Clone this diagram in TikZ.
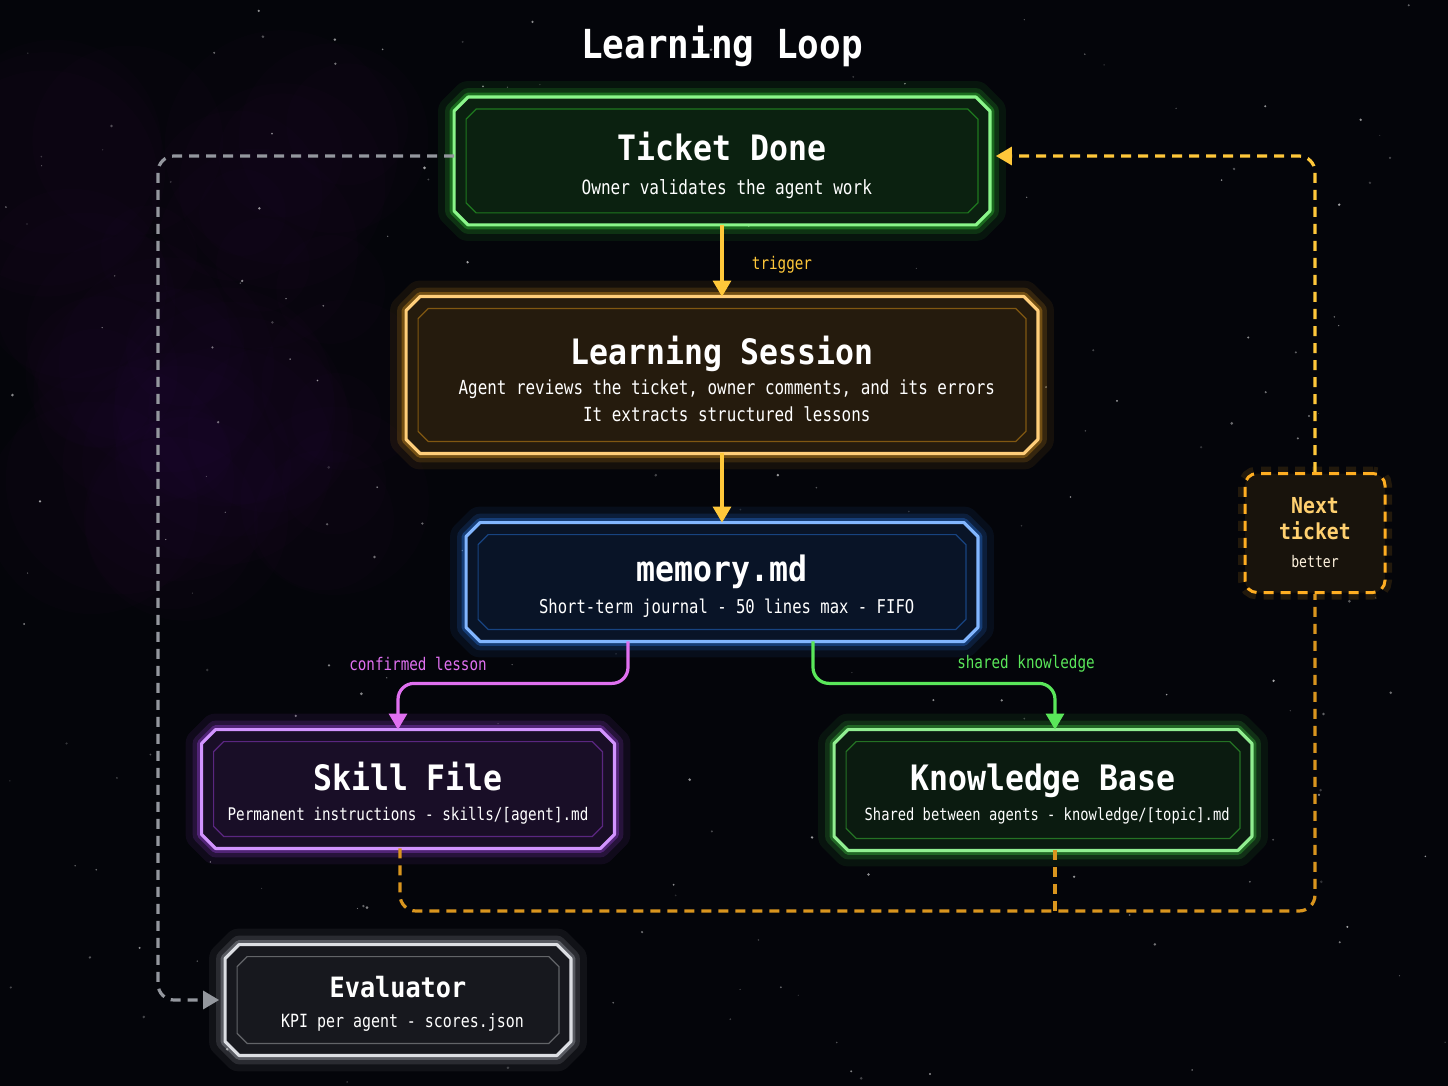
\documentclass[tikz,border=0pt]{standalone}
\usepackage{fontspec}
\setmonofont{DejaVu Sans Mono}
\newfontfamily\subf[FakeStretch=0.82]{DejaVu Sans Mono}
\newfontfamily\titf[FakeStretch=0.9]{DejaVu Sans Mono Bold}
\usetikzlibrary{arrows.meta,calc}
\definecolor{bg}{HTML}{04050A}
\definecolor{lcg}{HTML}{3CF03C}
\definecolor{lco}{HTML}{FFAE22}
\definecolor{lcb}{HTML}{2F86FF}
\definecolor{lcp}{HTML}{B44CFF}
\definecolor{lck}{HTML}{48E448}
\definecolor{lce}{HTML}{C4C8D0}
\definecolor{lcy}{HTML}{FFC83A}
\definecolor{lcm}{HTML}{E070F0}
\definecolor{ntt}{HTML}{FFD070}
\newcommand\tfont{\titf\fontsize{17.5}{20}\selectfont}
\newcommand\sfont[1][8.7]{\subf\fontsize{#1}{14.5}\selectfont}
\newcommand\chp[3]{([xshift=#2+#3,yshift=-#2]#1.north west) -- ([xshift=-#2-#3,yshift=-#2]#1.north east) -- ([xshift=-#2,yshift=-#2-#3]#1.north east) -- ([xshift=-#2,yshift=#2+#3]#1.south east) -- ([xshift=-#2-#3,yshift=#2]#1.south east) -- ([xshift=#2+#3,yshift=#2]#1.south west) -- ([xshift=#2,yshift=#2+#3]#1.south west) -- ([xshift=#2,yshift=-#2-#3]#1.north west) -- cycle}
\newcommand\gbox[7]{%
 \node[rectangle, inner sep=0pt, minimum width=#3, minimum height=#4] (#1) at (#2) {};
 \path[draw=#5,opacity=.07,line width=16pt,line join=round] \chp{#1}{0pt}{7pt};
 \path[draw=#5,opacity=.14,line width=9pt,line join=round] \chp{#1}{0pt}{7pt};
 \path[draw=#5,opacity=.3,line width=4.5pt,line join=round] \chp{#1}{0pt}{7pt};
 \path[fill=#6,draw=#5!60!white,line width=1.6pt,line join=round] \chp{#1}{0pt}{7pt};
 \path[draw=#5!50!black,line width=.6pt] \chp{#1}{6pt}{5pt};
 \node[text=white, align=center, yshift=-2pt] (#1t) at (#1.center) {#7};
}
\begin{document}
\begin{tikzpicture}[x=0.5pt,y=-0.5pt,
  conn/.style={line width=1.6pt,rounded corners=8pt},
  tip/.style={-{Triangle[length=8pt,width=9pt]}},
  dsh/.style={dash pattern=on 5pt off 3.5pt},
  lbl/.style={font=\sfont}]
\fill[bg] (0,0) rectangle (1448,1086);
\useasboundingbox (0,0) rectangle (1448,1086);
% nebula
\pgfmathsetseed{3}
\foreach \i in {1,...,40}
  \fill[lcp,opacity=.01] ({40+rnd*320},{120+rnd*420}) circle ({(20+rnd*40)*1pt});
\pgfmathsetseed{7}
\foreach \i in {1,...,220}
  \fill[white,opacity={0.15+0.5*rnd}] ({rnd*1448},{rnd*1086}) circle ({(0.25+0.5*rnd)*1pt});
% title
\node[text=white,font=\titf\fontsize{20}{22}\selectfont] (title) at (722,46) {Learning Loop};
% boxes
\gbox{td}{722,161}{267.5pt}{63.5pt}{lcg}{lcg!12!bg}{{\tfont Ticket Done}\\[5pt]{\sfont[9.8] Owner validates the agent work}}
\gbox{ls}{722,375}{315.5pt}{78pt}{lco}{lco!13!bg}{{\tfont Learning Session}\\[3pt]{\sfont[9.7] Agent reviews the ticket, owner comments, and its errors}\\[1.5pt]{\sfont[9.7] It extracts structured lessons}}
\gbox{mem}{722,582}{255.5pt}{59pt}{lcb}{lcb!12!bg}{{\tfont memory.md}\\[4pt]{\sfont[9.5] Short-term journal - 50 lines max - FIFO}}
\gbox{sf}{408,789}{206pt}{59pt}{lcp}{lcp!12!bg}{{\tfont Skill File}\\[3pt]{\sfont Permanent instructions - skills/[agent].md}}
\gbox{kb}{1043,790}{208.5pt}{60pt}{lck}{lck!10!bg}{{\tfont Knowledge Base}\\[3pt]{\sfont[8.4] Shared between agents - knowledge/[topic].md}}
\gbox{ev}{398,1000}{172.5pt}{55pt}{lce}{lce!10!bg}{{\titf\fontsize{14}{16}\selectfont Evaluator}\\[3pt]{\sfont[9.1] KPI per agent - scores.json}}
\node[draw=lco, dsh, line width=1.5pt, rounded corners=6pt, fill=lco!8!bg, minimum width=70pt, minimum height=59.5pt, preaction={draw=lco,opacity=.12,line width=7pt}, text=ntt, align=center, inner sep=0pt, font=\titf\fontsize{11}{13}\selectfont] (nt) at (1315,533) {Next\\ticket\\[1pt]\subf\fontsize{8}{9}\selectfont\color{white!85!lco}better};
% coordinates
\coordinate (gl) at (158,0);
\coordinate (bot) at (0,911);
% connectors
\draw[conn,tip,draw=lcy,fill=lcy] (td.south) -- (ls.north);
\node[lbl,text=lcy] (trig) at (782,265) {trigger};
\draw[conn,tip,draw=lcy,fill=lcy] (ls.south) -- (mem.north);
\draw[conn,tip,color=lcm] ([xshift=-47pt]mem.south) -- ++(0,42) -| ([xshift=-5pt]sf.north);
\node[lbl,text=lcm] (cl) at (418,664) {confirmed lesson};
\draw[conn,tip,color=lck!90!white] ([xshift=45.5pt]mem.south) -- ++(0,42) -| ([xshift=6pt]kb.north);
\node[lbl,text=lck!90!white] (sk) at (1026,664) {shared knowledge};
\coordinate (tdw) at ([yshift=2.5pt]td.west);
\draw[conn,tip,color=lce!75!bg,dsh] (tdw) -- (gl |- tdw) -- (gl |- ev.west) -- ([xshift=-3pt]ev.west);
\draw[conn,color=lco!85!bg,dsh] ([xshift=-4pt]sf.south) |- (nt.south |- bot) -- (nt.south);
\coordinate (kbs) at ([xshift=6pt]kb.south);
\draw[conn,color=lco!85!bg,dsh] (kbs) -- (kbs |- bot);
\draw[conn,tip,color=lcy,dsh] (nt.north) |- ([xshift=3pt,yshift=2.5pt]td.east);
\end{tikzpicture}
\end{document}
